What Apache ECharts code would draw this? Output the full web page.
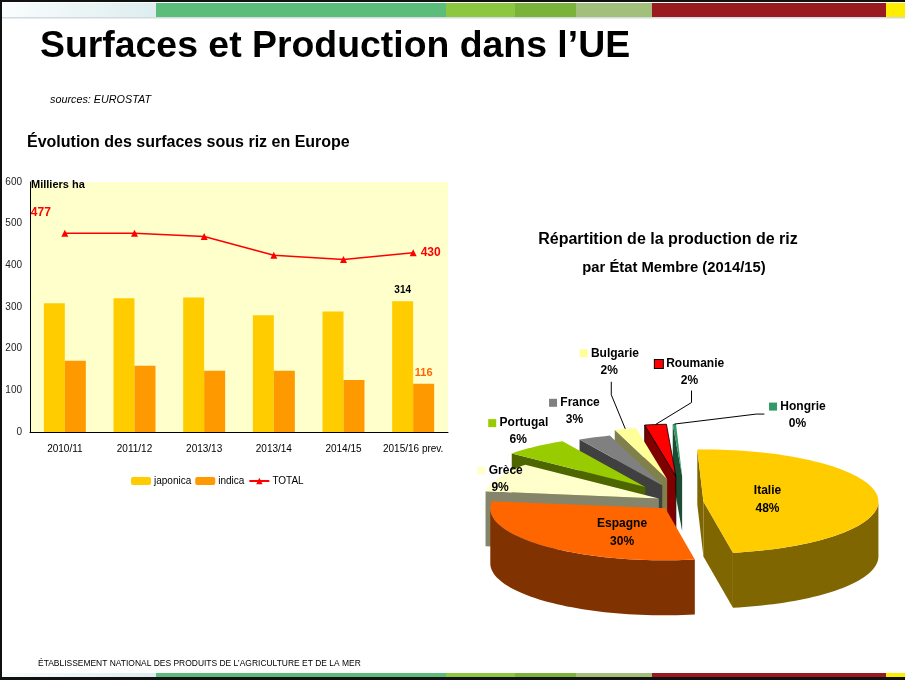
<!DOCTYPE html>
<html><head><meta charset="utf-8">
<script src="https://cdn.jsdelivr.net/npm/echarts@6/dist/echarts.min.js"></script>
<style>html,body{margin:0;padding:0;background:#fff}#c{width:905px;height:680px}</style>
</head><body><div id="c"></div>
<script>
// ---------- data ----------
const years = ['2010/11', '2011/12', '2013/13', '2013/14', '2014/15', '2015/16 prev.'];
const japonica = [309, 321, 323, 280, 289, 314];
const indica = [171, 159, 147, 147, 125, 116];
const totalRice = [477, 477, 469, 424, 414, 430];
const pieNames = ['Italie', 'Espagne', 'Grèce', 'Portugal', 'France', 'Bulgarie', 'Roumanie', 'Hongrie'];
const pieValues = [48, 30, 9, 6, 3, 2, 2, 0.3];

// ---------- styles ----------
const FONT = '"Liberation Sans", Arial, sans-serif';
const pieTop = ['#FFCC00', '#FF6600', '#FFFFCC', '#99CC00', '#808080', '#FFFF99', '#FF0000', '#339966'];
const pieSide = ['#806600', '#803300', '#85856B', '#4D6600', '#404040', '#80804D', '#800000', '#1A4D33'];
const pieExplode = [0.1, 0.17, 0.17, 0.37, 0.35, 0.45, 0.5, 0.5];
const labelInside = [true, true, false, false, false, false, false, false];
const labelOff = [[-9, 0], [8, 9], [1, 2], [-17, -15], [-20, -26], [-16, -67], [34, -52], [123, -9]];
const leaderPts = [null, null, null, null, null, [[-14, -34], [-14, -47]], [[36, -22], [36, -34]], [[82, -10], [90, -10]]];
const CX = 686, CY = 502, RX = 175, RY = 52, H = 55, START = -2;

const sum = pieValues.reduce((a, b) => a + b, 0);
const ang = []; let acc = START;
pieValues.forEach(v => { const s = acc; acc += v / sum * 360; ang.push([s, acc]); });
const rad = d => d * Math.PI / 180;
function geo(i) {
  const s = ang[i][0], e = ang[i][1], m = (s + e) / 2, d = pieExplode[i];
  const tx = CX + d * RX * Math.sin(rad(m)), ty = CY - d * RY * Math.cos(rad(m));
  const P = (t, dy) => [tx + RX * Math.sin(rad(t)), ty - RY * Math.cos(rad(t)) + (dy || 0)];
  return { s, e, m, tx, ty, P };
}
function arc(P, a, b, dy) {
  const pts = []; const n = Math.max(2, Math.ceil(Math.abs(b - a) / 2));
  for (let k = 0; k <= n; k++) pts.push(P(a + (b - a) * k / n, dy));
  return pts;
}
// draw order: back slices first
const order = pieValues.map((v, i) => i).sort((a, b) => {
  const ma = (ang[a][0] + ang[a][1]) / 2, mb = (ang[b][0] + ang[b][1]) / 2;
  return Math.cos(rad(mb)) - Math.cos(rad(ma));
});

function renderSlice(params, api) {
  const i = api.value(0);
  const g = geo(i);
  const stroke = i === 6 ? '#000' : null;
  const poly = (pts, fill) => ({ type: 'polygon', shape: { points: pts }, style: { fill: fill, stroke: stroke, lineWidth: stroke ? 0.8 : 0 } });
  const ch = [];
  for (const off of [-360, 0, 360]) {
    const a = Math.max(g.s, 90 + off), b = Math.min(g.e, 270 + off);
    if (b > a) ch.push(poly(arc(g.P, a, b, 0).concat(arc(g.P, b, a, H)), pieSide[i]));
  }
  const T = [g.tx, g.ty], TB = [g.tx, g.ty + H];
  if (Math.sin(rad(g.s)) < 0) ch.push(poly([T, g.P(g.s), g.P(g.s, H), TB], pieSide[i]));
  if (Math.sin(rad(g.e)) > 0) ch.push(poly([T, g.P(g.e), g.P(g.e, H), TB], pieSide[i]));
  ch.push(poly([T].concat(arc(g.P, g.s, g.e, 0)), pieTop[i]));
  const pct = Math.round(api.value(1) / sum * 100) + '%';
  let ax, ay;
  if (labelInside[i]) {
    ax = g.tx + 0.42 * RX * Math.sin(rad(g.m)); ay = g.ty - 0.42 * RY * Math.cos(rad(g.m));
    ch.push({ type: 'text', z2: 100, style: { x: ax + labelOff[i][0], y: ay + labelOff[i][1], text: pieNames[i] + '\n' + pct,
      align: 'center', verticalAlign: 'middle', font: 'bold 12px ' + FONT, fill: '#000', lineHeight: 18 } });
  } else {
    const A = g.P(g.m); ax = A[0]; ay = A[1];
    if (leaderPts[i]) {
      const pts = [[ax, ay]].concat(leaderPts[i].map(p => [ax + p[0], ay + p[1]]));
      ch.push({ type: 'polyline', z2: 90, shape: { points: pts }, style: { stroke: '#000', lineWidth: 1, fill: null } });
    }
    ch.push({ type: 'text', z2: 100, style: { x: ax + labelOff[i][0], y: ay + labelOff[i][1],
      text: '{sq|}{n| ' + pieNames[i] + '}\n{p|' + pct + '}',
      align: 'center', verticalAlign: 'middle', font: 'bold 12px ' + FONT, fill: '#000',
      rich: {
        sq: { width: 8, height: 8, backgroundColor: pieTop[i], borderColor: i === 6 ? '#000' : 'rgba(0,0,0,0)', borderWidth: i === 6 ? 1 : 0 },
        n: { font: 'bold 12px ' + FONT, fill: '#000', lineHeight: 17 },
        p: { font: 'bold 12px ' + FONT, fill: '#000', lineHeight: 17 }
      } } });
  }
  return { type: 'group', children: ch };
}

// ---------- decorations ----------
const stripeSegs = [[0, 156, null], [156, 446, '#5CBC7A'], [446, 515, '#8DC63F'], [515, 576, '#7BB23A'], [576, 652, '#A2C07C'], [652, 886, '#991B1F'], [886, 905, '#FFED00']];
function stripe(y, h) {
  return stripeSegs.map(s => ({ type: 'rect', silent: true, shape: { x: s[0], y: y, width: s[1] - s[0], height: h },
    style: { fill: s[2] || new echarts.graphic.LinearGradient(0, 0, 1, 0, [{ offset: 0, color: '#FAFDFD' }, { offset: 1, color: '#DDEDEF' }]) } }));
}
const txt = (x, y, t, font, extra) => Object.assign({ type: 'text', x: x, y: y, silent: true,
  style: { text: t, font: font, fill: '#000', align: 'left', verticalAlign: 'middle' } }, extra || {});

const chart = echarts.init(document.getElementById('c'), null, { renderer: 'canvas' });
chart.setOption({
  animation: false,
  backgroundColor: '#fff',
  textStyle: { fontFamily: FONT },
  graphic: [].concat(stripe(3, 14), stripe(673, 4), [
    { type: 'rect', silent: true, shape: { x: 0, y: 17, width: 905, height: 1.5 }, style: { fill: '#D3DADD' } },
    { type: 'rect', silent: true, shape: { x: 0, y: 0, width: 905, height: 2 }, style: { fill: '#111' } },
    { type: 'rect', silent: true, shape: { x: 0, y: 0, width: 2, height: 680 }, style: { fill: '#111' } },
    { type: 'rect', silent: true, shape: { x: 0, y: 677, width: 905, height: 3 }, style: { fill: '#111' } },
    txt(40, 47, 'Surfaces et Production dans l’UE', 'bold 37.4px ' + FONT),
    txt(50, 100, 'sources: EUROSTAT', 'italic 10.8px ' + FONT),
    txt(27, 143, 'Évolution des surfaces sous riz en Europe', 'bold 16px ' + FONT),
    txt(31, 185, 'Milliers ha', 'bold 11px ' + FONT),
    { type: 'text', x: 668, y: 240, silent: true, style: { text: 'Répartition de la production de riz', font: 'bold 16px ' + FONT, fill: '#000', align: 'center', verticalAlign: 'middle' } },
    { type: 'text', x: 674, y: 268, silent: true, style: { text: 'par État Membre (2014/15)', font: 'bold 14.8px ' + FONT, fill: '#000', align: 'center', verticalAlign: 'middle' } },
    txt(38, 663, 'ÉTABLISSEMENT NATIONAL DES PRODUITS DE L’AGRICULTURE ET DE LA MER', '9.5px ' + FONT, { scaleX: 0.89, originX: 0, originY: 0 })
  ]),
  legend: {
    data: ['japonica', 'indica', 'TOTAL'], left: 126, top: 471, itemWidth: 20, itemHeight: 8, itemGap: 4,
    textStyle: { fontSize: 10, color: '#000', fontFamily: FONT, padding: [0, 0, 0, -2] }
  },
  grid: { left: 30, top: 182, width: 418, height: 250, show: true, backgroundColor: '#FFFFCC', borderWidth: 0, containLabel: false },
  xAxis: {
    type: 'category', data: years,
    axisLine: { lineStyle: { color: '#000', width: 1 } },
    axisTick: { inside: true, length: 4, lineStyle: { color: '#000' } },
    axisLabel: { color: '#000', fontSize: 10, margin: 12, fontFamily: FONT, interval: 0 }
  },
  yAxis: {
    type: 'value', min: 0, max: 600, interval: 100,
    axisLine: { show: true, lineStyle: { color: '#000' } },
    axisTick: { show: false }, splitLine: { show: false },
    axisLabel: { color: '#222', fontSize: 10, margin: 8, fontFamily: FONT }
  },
  series: [
    { name: 'japonica', type: 'bar', barWidth: 21, barGap: '0%', itemStyle: { color: '#FFCC00' },
      data: japonica.map((v, i) => i === 5 ? { value: v, label: { show: true, position: 'top', distance: 6, color: '#000', fontWeight: 'bold', fontSize: 10 } } : v) },
    { name: 'indica', type: 'bar', barWidth: 21, barGap: '0%', itemStyle: { color: '#FF9900' },
      data: indica.map((v, i) => i === 5 ? { value: v, label: { show: true, position: 'top', distance: 5, color: '#FF6600', fontWeight: 'bold', fontSize: 11 } } : v) },
    { name: 'TOTAL', type: 'line', symbol: 'triangle', symbolSize: 7, itemStyle: { color: '#FF0000' }, lineStyle: { color: '#FF0000', width: 1.5 },
      data: totalRice.map((v, i) => i === 0 ? { value: v, label: { show: true, position: 'top', offset: [-24, -6], color: '#FF0000', fontWeight: 'bold', fontSize: 12 } }
        : i === 5 ? { value: v, label: { show: true, position: 'right', distance: 4, color: '#FF0000', fontWeight: 'bold', fontSize: 12 } } : v) },
    { name: 'Répartition', type: 'custom', coordinateSystem: 'none', silent: true, renderItem: renderSlice,
      data: order.map(i => [i, pieValues[i]]) }
  ]
});
</script></body></html>
